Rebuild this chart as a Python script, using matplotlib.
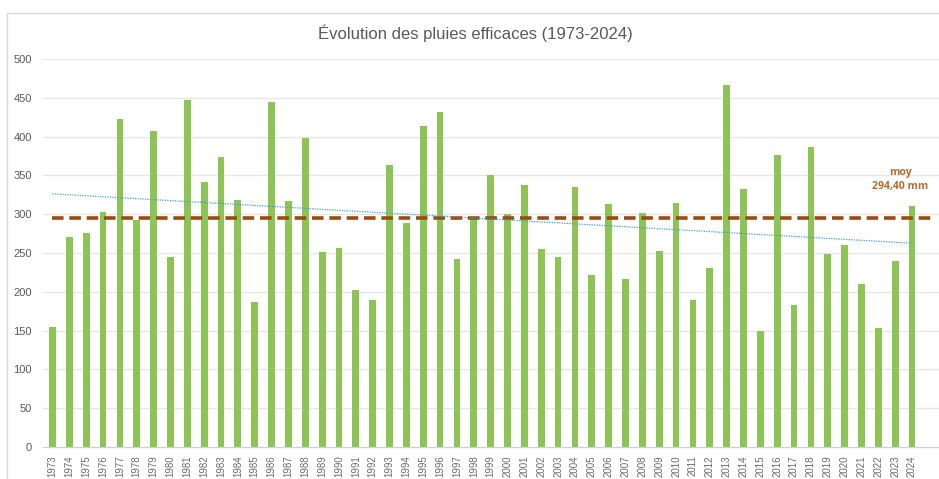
import numpy as np
import matplotlib
matplotlib.use("Agg")
import matplotlib.pyplot as plt
from matplotlib.patches import Rectangle

# Données : pluies efficaces (mm) par année
annees = list(range(1973, 2025))
pluies = [155, 270, 276, 303, 423, 293, 407, 245, 447, 341,
          374, 318, 187, 444, 317, 398, 251, 256, 202, 190,
          363, 288, 413, 432, 242, 296, 350, 300, 337, 255,
          245, 335, 222, 313, 216, 301, 252, 314, 190, 231,
          466, 332, 150, 376, 183, 386, 249, 260, 210, 153,
          240, 310]
moyenne = 294.40
y_ticks = list(range(0, 501, 50))

plt.rcParams['font.family'] = ['Liberation Sans', 'DejaVu Sans']

fig = plt.figure(figsize=(9.39, 4.79), dpi=100)
ax = fig.add_axes([0.046, 0.0668, 0.954, 0.8102])

x = np.arange(len(annees))

# grille horizontale
for v in y_ticks[1:]:
    ax.axhline(v, color='#e6e6e6', lw=0.9, zorder=0)

ax.bar(x, pluies, width=0.4, color='#8cc455', zorder=2)

# ligne de moyenne
ax.plot([-0.05, 52.1], [moyenne, moyenne], color='#9a4a12', lw=2.6,
        ls=(0, (3.2, 1.6)), zorder=3)

# tendance linéaire
a, b = np.polyfit(x, pluies, 1)
ax.plot(x, a * x + b, color='#4a9bd4', lw=0.9, ls=(0, (1, 1)), zorder=4)

ax.text(50.3, 345, 'moy\n294,40 mm', color='#b26b30', fontsize=7.6,
        fontweight='bold', ha='center', va='center', linespacing=1.35,
        family=['Open Sans', 'DejaVu Sans'])

ax.set_xlim(-0.55, 52.6)
ax.set_ylim(0, 500)
ax.set_yticks(y_ticks)
ax.set_yticklabels([str(v) for v in y_ticks], color='#595959', fontsize=8)
ax.set_xticks(x)
ax.set_xticklabels([str(a_) for a_ in annees], rotation=90, color='#6b6b6b',
                   fontsize=7)
ax.tick_params(axis='both', length=0, pad=6)
ax.tick_params(axis='y', pad=8)
for s in ['top', 'right', 'left']:
    ax.spines[s].set_visible(False)
ax.spines['bottom'].set_color('#d0d0d0')
ax.spines['bottom'].set_linewidth(0.9)

fig.text(0.506, 0.931, 'Évolution des pluies efficaces (1973-2024)',
         ha='center', va='center', fontsize=12, color='#595959')

# cadre du graphique
fig.patches.append(Rectangle((7 / 939, -0.02), 1.2, 1 - 13 / 479 + 0.02,
                             transform=fig.transFigure, fill=False,
                             edgecolor='#d9d9d9', lw=1.0))

fig.savefig('out.png', dpi=100)
